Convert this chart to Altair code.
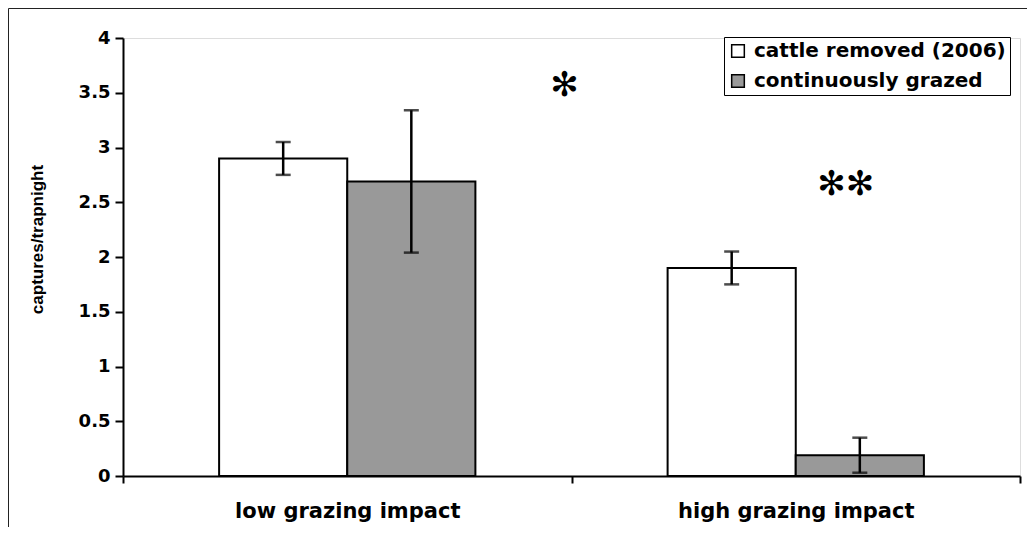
import altair as alt
import pandas as pd

# ---- data ----
categories = ["low grazing impact", "high grazing impact"]
series = ["cattle removed (2006)", "continuously grazed"]
removed_means = [2.90, 1.90]
removed_err = [0.15, 0.15]
grazed_means = [2.69, 0.19]
grazed_err = [0.65, 0.16]
y_ticks = [0, 0.5, 1, 1.5, 2, 2.5, 3, 3.5, 4]

# significance markers
star_single_text = ["\u273B"]
star_single_cat = ["low grazing impact"]
star_single_y = [3.56]
star_double_text = ["\u273B\u273B"]
star_double_cat = ["high grazing impact"]
star_double_series = ["continuously grazed"]
star_double_y = [2.66]

rows = []
for s, means, errs in [(series[0], removed_means, removed_err),
                       (series[1], grazed_means, grazed_err)]:
    for c, m, e in zip(categories, means, errs):
        rows.append({"category": c, "series": s, "value": m,
                     "lo": m - e, "hi": m + e})
df = pd.DataFrame(rows)

W, H = 897, 438

x_enc = alt.X("category:N", sort=categories,
              scale=alt.Scale(paddingInner=0, paddingOuter=0),
              axis=alt.Axis(title=None, labelAngle=0, tickBand="extent",
                            domainColor="black", domainWidth=2,
                            tickColor="black", tickWidth=2, tickSize=7,
                            labelFont="DejaVu Sans", labelFontWeight="bold",
                            labelFontSize=21, labelColor="black",
                            labelLimit=0, labelPadding=17))
xoff_enc = alt.XOffset("series:N", sort=series,
                       scale=alt.Scale(paddingInner=0, paddingOuter=0.75))
y_scale = alt.Scale(domain=[0, 4], nice=False)

bars = alt.Chart(df).mark_bar(stroke="black", strokeWidth=2).encode(
    x=x_enc,
    xOffset=xoff_enc,
    y=alt.Y("value:Q", scale=y_scale,
            axis=alt.Axis(values=y_ticks, format="~g", grid=False,
                          title="captures/trapnight",
                          titleFont="Liberation Sans", titleFontWeight="bold",
                          titleFontSize=17, titleColor="black",
                          titleX=-86, titleY=201, titleAngle=270,
                          titleBaseline="middle", titleAlign="center",
                          domainColor="black", domainWidth=2,
                          tickColor="black", tickWidth=2, tickSize=8,
                          labelFont="DejaVu Sans", labelFontWeight="bold",
                          labelFontSize=18, labelColor="black",
                          labelPadding=5)),
    fill=alt.Fill("series:N", sort=series,
                  scale=alt.Scale(domain=series, range=["white", "#999999"]),
                  legend=alt.Legend(title=None, orient="none",
                                    legendX=601, legendY=-1,
                                    symbolType="square", symbolSize=160,
                                    symbolStrokeColor="black",
                                    symbolStrokeWidth=1.5,
                                    labelFont="DejaVu Sans",
                                    labelFontWeight="bold",
                                    labelFontSize=20, labelColor="black",
                                    labelLimit=0,
                                    labelOffset=6, rowPadding=10,
                                    padding=4, strokeColor="black",
                                    fillColor="white")),
)

err_rule = alt.Chart(df).mark_rule(color="black", strokeWidth=2.5).encode(
    x=alt.X("category:N", sort=categories),
    xOffset=alt.XOffset("series:N", sort=series),
    y=alt.Y("lo:Q", scale=y_scale),
    y2="hi:Q",
)
cap_hi = alt.Chart(df).mark_tick(color="black", thickness=2.5, size=15).encode(
    x=alt.X("category:N", sort=categories),
    xOffset=alt.XOffset("series:N", sort=series),
    y=alt.Y("hi:Q", scale=y_scale),
)
cap_lo = alt.Chart(df).mark_tick(color="black", thickness=2.5, size=15).encode(
    x=alt.X("category:N", sort=categories),
    xOffset=alt.XOffset("series:N", sort=series),
    y=alt.Y("lo:Q", scale=y_scale),
)

star1_df = pd.DataFrame({"t": star_single_text, "category": star_single_cat,
                         "y": star_single_y})
star1 = alt.Chart(star1_df).mark_text(font="DejaVu Sans", fontSize=34,
                                      color="black", dx=-7,
                                      baseline="middle").encode(
    x=alt.X("category:N", sort=categories, bandPosition=1),
    y=alt.Y("y:Q", scale=y_scale),
    text="t:N",
)

star2_df = pd.DataFrame({"t": star_double_text, "category": star_double_cat,
                         "series": star_double_series, "y": star_double_y})
star2 = alt.Chart(star2_df).mark_text(font="DejaVu Sans", fontSize=34,
                                      color="black", dx=-14,
                                      baseline="middle").encode(
    x=alt.X("category:N", sort=categories),
    xOffset=alt.XOffset("series:N", sort=series),
    y=alt.Y("y:Q", scale=y_scale),
    text="t:N",
)

frame = alt.Chart(pd.DataFrame({"k": [0]})).mark_rect(
    fillOpacity=0, stroke="#222222", strokeWidth=1, clip=False).encode(
    x=alt.value(-114.5), x2=alt.value(W + 40),
    y=alt.value(-29.5), y2=alt.value(H + 80),
)

chart = alt.layer(bars, err_rule, cap_hi, cap_lo, star1, star2, frame).properties(
    width=W, height=H,
    autosize=alt.AutoSizeParams(type="none"),
    padding={"left": 115, "top": 30, "right": 7, "bottom": 51},
).configure_view(stroke=None).configure(background="white")

chart.save("out.html", embed_options={"renderer": "svg", "actions": False})
